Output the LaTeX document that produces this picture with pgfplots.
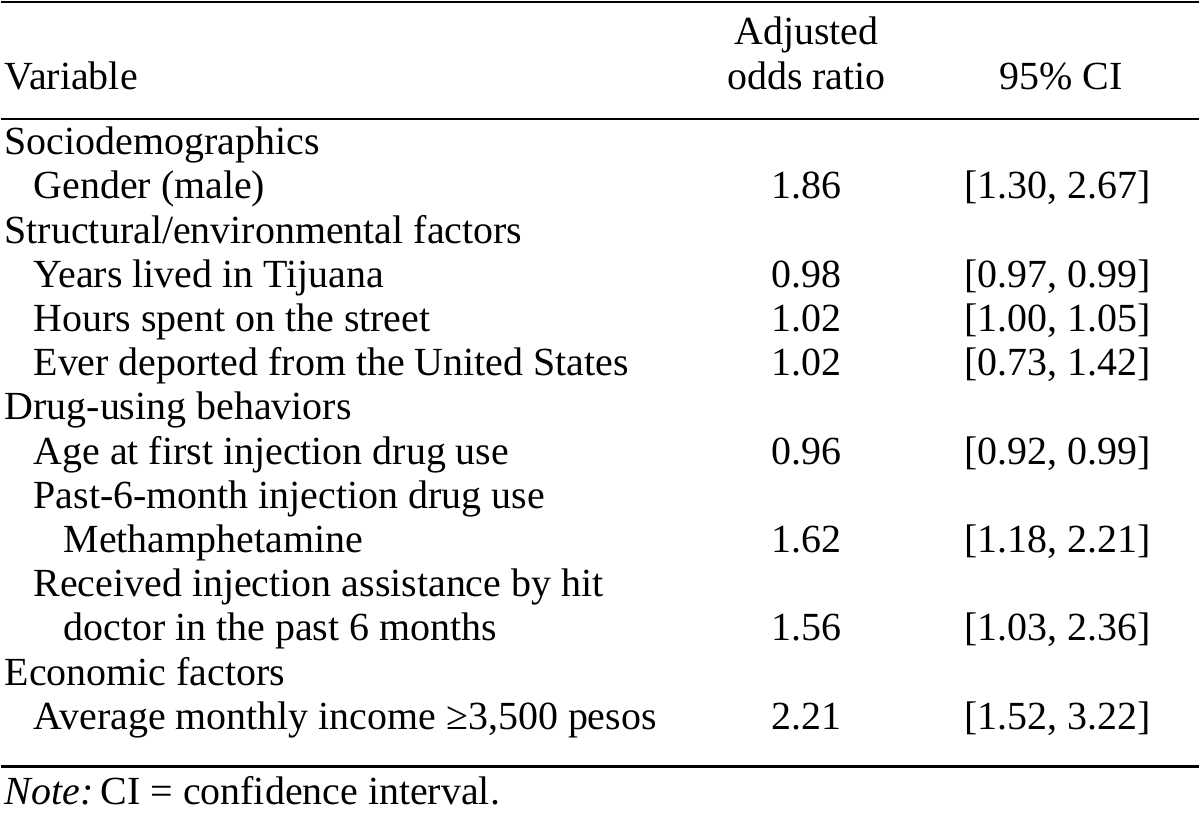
\documentclass[border=0pt]{standalone}
\usepackage{fontspec}
\setmainfont{Liberation Serif}
\usepackage{pgfplots}
\usepackage{pgfplotstable}
\pgfplotsset{compat=1.18}

% left column: x (px), y baseline (px from top), label
\pgfplotstableread[col sep=semicolon]{
x;y;label
3;90;Variable
3;155;Sociodemographics
32;199.3;Gender (male)
3;243.6;Structural/environmental factors
32;287.9;Years lived in Tijuana
32;332.2;Hours spent on the street
32;376.5;Ever deported from the United States
3;420.8;Drug-using behaviors
32;465.1;Age at first injection drug use
32;509.4;Past-6-month injection drug use
62;553.7;Methamphetamine
32;598;Received injection assistance by hit
62;642.3;doctor in the past 6 months
3;686.6;Economic factors
32;730.9;Average monthly income ≥3,500 pesos
}\leftcol

% adjusted odds ratio column (centred)
\pgfplotstableread[col sep=semicolon]{
x;y;label
807;45;Adjusted
807;90;odds ratio
807;199.3;1.86
807;287.9;0.98
807;332.2;1.02
807;376.5;1.02
807;465.1;0.96
807;553.7;1.62
807;642.3;1.56
807;730.9;2.21
1062;90;95\% CI
}\orcol

% 95% CI column (right aligned)
\pgfplotstableread[col sep=semicolon]{
x;y;label
1152;199.3;[1.30, 2.67]
1152;287.9;[0.97, 0.99]
1152;332.2;[1.00, 1.05]
1152;376.5;[0.73, 1.42]
1152;465.1;[0.92, 0.99]
1152;553.7;[1.18, 2.21]
1152;642.3;[1.03, 2.36]
1152;730.9;[1.52, 3.22]
}\cicol

\begin{document}
\begin{tikzpicture}
\begin{axis}[
  scale only axis, width=600pt, height=407.5pt,
  xmin=0, xmax=1200, ymin=0, ymax=815, y dir=reverse,
  hide axis, clip=false,
  every node near coord/.append style={font=\fontsize{20pt}{24pt}\selectfont, inner sep=0pt, text=black},
]
\addplot[draw=none, mark=none] coordinates {(0,0) (1200,815)};
\addplot[black, line width=1.3pt, mark=none] coordinates {(0,2) (1200,2)};
\addplot[black, line width=1.2pt, mark=none] coordinates {(0,119) (1200,119)};
\addplot[black, line width=1.2pt, mark=none] coordinates {(0,768) (1200,768)};

\addplot[draw=none, mark=none, nodes near coords, point meta=explicit symbolic,
  nodes near coords align={anchor=base west}] table[x=x, y=y, meta=label] {\leftcol};
\addplot[draw=none, mark=none, nodes near coords, point meta=explicit symbolic,
  nodes near coords align={anchor=base}] table[x=x, y=y, meta=label] {\orcol};
\addplot[draw=none, mark=none, nodes near coords, point meta=explicit symbolic,
  nodes near coords align={anchor=base east}] table[x=x, y=y, meta=label] {\cicol};
\addplot[draw=none, mark=none, nodes near coords, point meta=explicit symbolic,
  nodes near coords align={anchor=base west}] coordinates {(3,806) [\textit{Note:}\hspace{-0.15em} CI = confidence interval.]};
\end{axis}
\end{tikzpicture}
\end{document}
